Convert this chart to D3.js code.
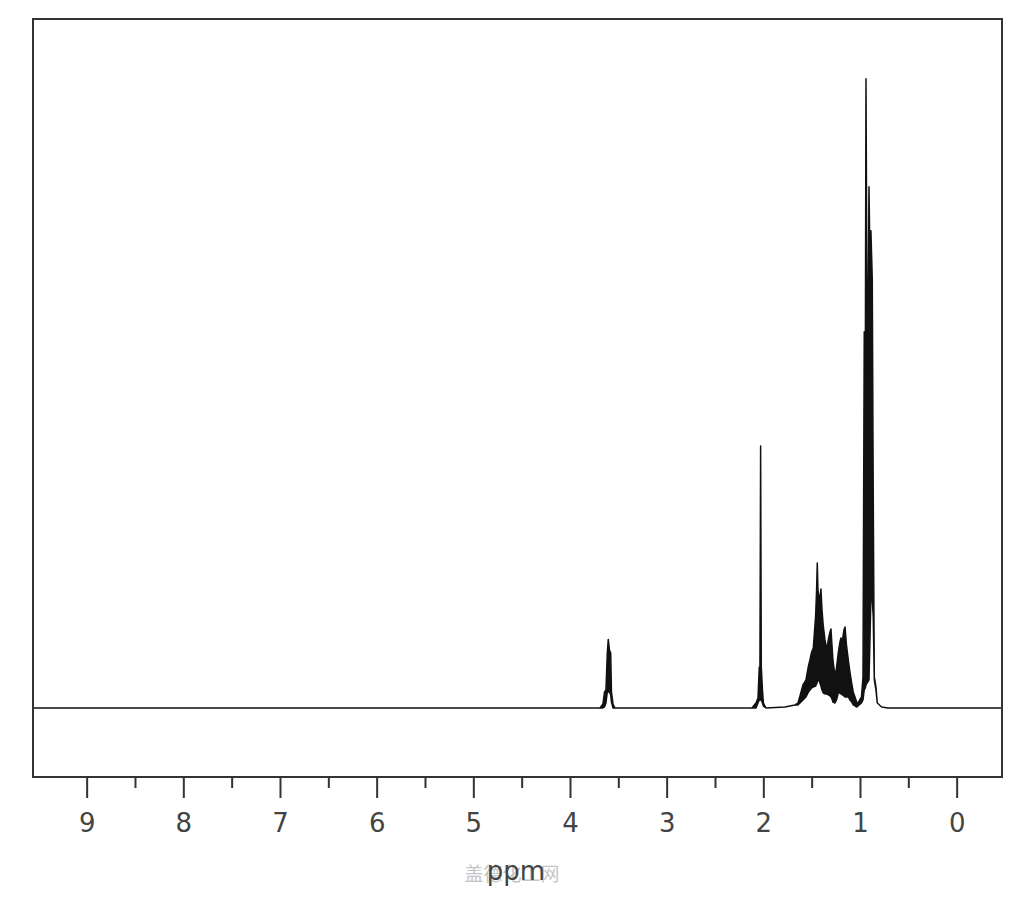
<!DOCTYPE html>
<html>
<head>
<meta charset="utf-8">
<script src="https://cdn.jsdelivr.net/npm/d3@7"></script>
<style>
  html, body { margin: 0; padding: 0; background: #fff; }
  svg { display: block; }
  .tick-label { font-family: "DejaVu Sans", sans-serif; font-size: 26px; fill: #444; }
</style>
</head>
<body>
<svg width="1024" height="900"></svg>
<script>
// x extent of the plot, ppm (axis runs right to left)
const ppmRange = [9.555, -0.469]
// intensity extent, tallest peak = 100
const intensityRange = [-10.97, 109.5]

const majorTicks = [9, 8, 7, 6, 5, 4, 3, 2, 1, 0]
const minorTicks = [8.5, 7.5, 6.5, 5.5, 4.5, 3.5, 2.5, 1.5, 0.5]
const xLabel = 'ppm'
const watermark = '盖德化工网'

// trace: [ppm, lower envelope, upper envelope]
const baselineLeft = [
  [9.555, 0, 0],
  [3.69, 0, 0],
]
const tripletCH2O = [
  [3.659, 0, 0.64],
  [3.643, 0.16, 2.54],
  [3.628, 0.79, 2.86],
  [3.614, 2.54, 8.74],
  [3.604, 2.54, 10.9],
  [3.592, 2.54, 9.22],
  [3.579, 2.07, 8.74],
  [3.571, 0.95, 2.54],
  [3.555, 0, 0.64],
  [3.535, 0, 0],
]
const singlet = [
  [2.118, 0, 0],
  [2.076, 0, 0.79],
  [2.055, 0.8, 1.59],
  [2.042, 1.27, 6.52],
  [2.035, 1.27, 6.52],
  [2.028, 1.27, 41.65],
  [2.021, 1.27, 6.52],
  [2.009, 0.8, 2.86],
  [1.999, 0.3, 0.79],
  [1.973, 0, 0],
]
const multiplet = [
  [1.776, 0.16, 0.16],
  [1.673, 0.48, 0.48],
  [1.642, 0.48, 0.79],
  [1.621, 0.79, 1.91],
  [1.590, 1.27, 3.66],
  [1.559, 1.75, 4.45],
  [1.533, 2.54, 6.68],
  [1.518, 2.86, 7.63],
  [1.500, 3.18, 8.90],
  [1.483, 3.34, 9.54],
  [1.459, 3.50, 14.63],
  [1.449, 3.82, 18.76],
  [1.442, 4.13, 23.05],
  [1.435, 4.45, 18.76],
  [1.421, 4.29, 17.17],
  [1.411, 3.82, 17.97],
  [1.404, 3.50, 18.92],
  [1.393, 2.86, 15.58],
  [1.380, 2.38, 13.04],
  [1.362, 2.23, 10.81],
  [1.345, 2.23, 9.22],
  [1.328, 2.07, 10.81],
  [1.311, 1.91, 12.08],
  [1.300, 1.75, 12.56],
  [1.290, 1.43, 10.02],
  [1.280, 0.95, 7.63],
  [1.259, 0.79, 5.09],
  [1.243, 1.27, 6.36],
  [1.225, 2.38, 8.74],
  [1.207, 2.38, 10.49],
  [1.197, 2.23, 11.13],
  [1.181, 2.07, 10.81],
  [1.166, 1.91, 12.40],
  [1.155, 1.75, 12.88],
  [1.140, 1.75, 10.02],
  [1.121, 1.75, 7.63],
  [1.104, 1.27, 5.72],
  [1.086, 0.95, 3.97],
  [1.070, 0.48, 2.54],
  [1.052, 0.32, 1.75],
  [1.031, 0.16, 0.79],
]
const tripletCH3 = [
  [1.021, 0.32, 0.79],
  [0.985, 0.79, 1.75],
  [0.969, 1.27, 4.93],
  [0.956, 2.86, 59.78],
  [0.945, 3.18, 52.15],
  [0.938, 3.66, 100],
  [0.928, 3.97, 64.86],
  [0.920, 4.13, 51.83],
  [0.907, 4.45, 82.83],
  [0.897, 10.81, 71.22],
  [0.887, 17.81, 75.83],
  [0.873, 17.17, 68.20],
  [0.863, 14.47, 33.86],
  [0.852, 4.45, 4.93],
  [0.835, 2.86, 3.34],
  [0.821, 0.79, 0.79],
  [0.776, 0.16, 0.16],
  [0.711, 0, 0],
]
const baselineRight = [
  [-0.469, 0, 0],
]


function main() {
  const svg = d3.select('svg')
  const frame = { left: 33, right: 1002, top: 19, bottom: 777 }

  const x = d3.scaleLinear().domain(ppmRange).range([frame.left, frame.right])
  const y = d3.scaleLinear().domain(intensityRange).range([frame.bottom, frame.top])

  const trace = [].concat(baselineLeft, tripletCH2O, singlet, multiplet, tripletCH3, baselineRight)

  // Spectrum: filled band between the envelopes, outlined so flat parts show as a line
  const area = d3.area()
    .x(d => x(d[0]))
    .y0(d => y(d[1]))
    .y1(d => y(d[2]))

  svg.append('path')
    .datum(trace)
    .attr('d', area)
    .attr('fill', '#111')
    .attr('stroke', '#111')
    .attr('stroke-width', 1.5)
    .attr('stroke-linejoin', 'round')

  // Frame
  svg.append('rect')
    .attr('x', frame.left)
    .attr('y', frame.top)
    .attr('width', frame.right - frame.left)
    .attr('height', frame.bottom - frame.top)
    .attr('fill', 'none')
    .attr('stroke', '#333')
    .attr('stroke-width', 2)

  // Major ticks with labels
  const major = svg.append('g')
    .attr('transform', `translate(0,${frame.bottom})`)
    .call(d3.axisBottom(x).tickValues(majorTicks).tickSize(21).tickFormat(d3.format('d')))
  major.select('.domain').remove()
  major.selectAll('.tick line').attr('stroke', '#333').attr('stroke-width', 2)
  major.selectAll('.tick text')
    .attr('class', 'tick-label')
    .attr('y', 55)
    .attr('dy', null)
    .attr('font-family', null)
    .attr('font-size', null)
    .attr('fill', null)

  // Minor ticks
  const minor = svg.append('g')
    .attr('transform', `translate(0,${frame.bottom})`)
    .call(d3.axisBottom(x).tickValues(minorTicks).tickSize(11).tickFormat(''))
  minor.select('.domain').remove()
  minor.selectAll('.tick line').attr('stroke', '#333').attr('stroke-width', 2)

  // Watermark sits behind the axis title, as in the source image
  svg.append('text')
    .attr('x', 512)
    .attr('y', 881)
    .attr('text-anchor', 'middle')
    .attr('font-family', '"Noto Sans CJK SC", sans-serif')
    .attr('font-size', 19)
    .attr('fill', '#c4c4c4')
    .text(watermark)

  svg.append('text')
    .attr('class', 'tick-label')
    .attr('x', 516)
    .attr('y', 880)
    .attr('text-anchor', 'middle')
    .text(xLabel)
}


window.addEventListener('DOMContentLoaded', function () {
  main()
})
</script>
</body>
</html>
